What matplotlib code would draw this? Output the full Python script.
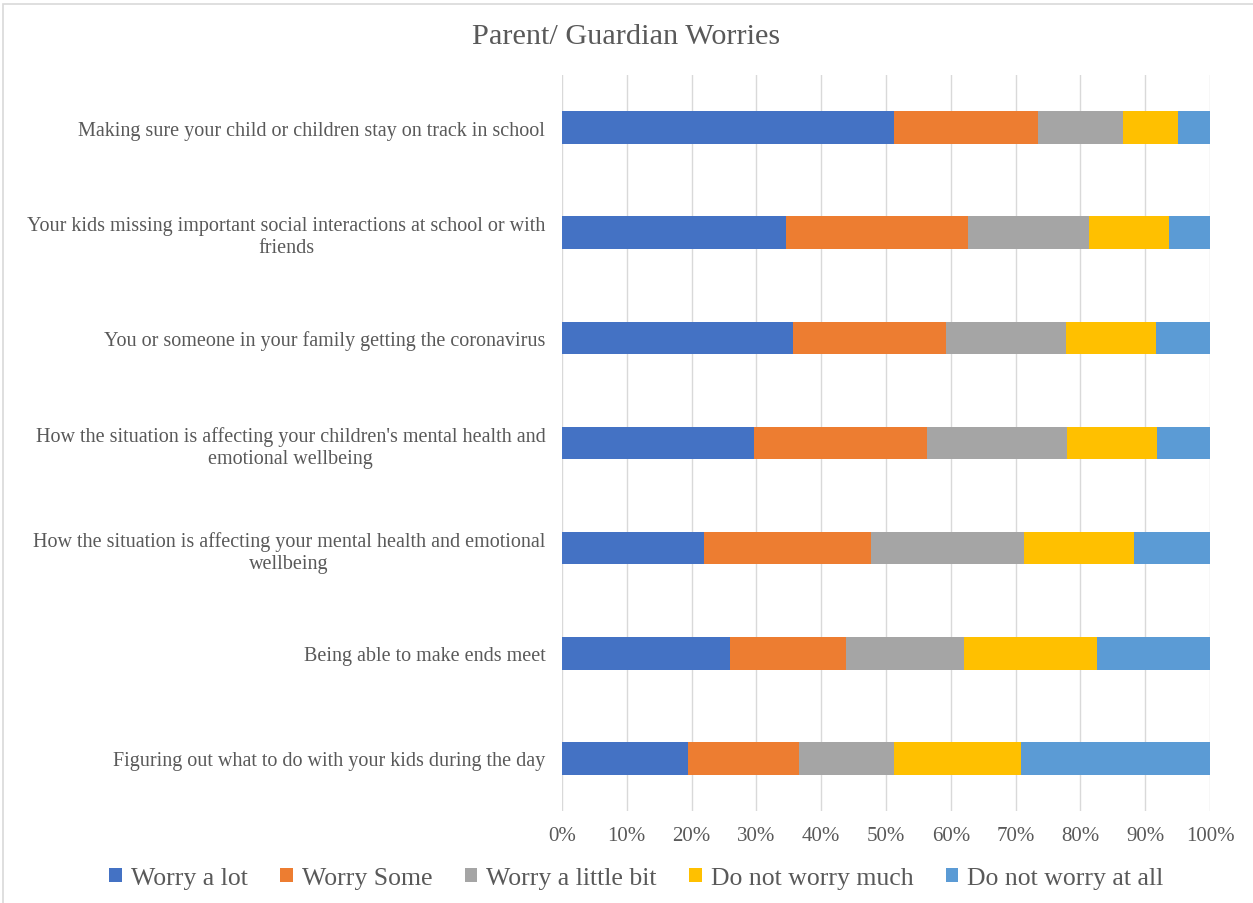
import matplotlib.pyplot as plt
from matplotlib.patches import Rectangle
import numpy as np

# --- survey data (share of respondents, %) ---
questions = [
    'Making sure your child or children stay on track in school',
    'Your kids missing important social interactions at school or with\nfriends',
    'You or someone in your family getting the coronavirus',
    "How the situation is affecting your children's mental health and\nemotional wellbeing",
    'How the situation is affecting your mental health and emotional\nwellbeing',
    'Being able to make ends meet',
    'Figuring out what to do with your kids during the day',
]
worry_lot = [51.3, 34.6, 35.7, 29.7, 21.9, 26.0, 19.4]
worry_some = [22.2, 28.1, 23.5, 26.6, 25.8, 17.8, 17.1]
worry_little = [13.1, 18.6, 18.5, 21.7, 23.6, 18.3, 14.8]
not_much = [8.4, 12.4, 14.0, 13.8, 17.0, 20.4, 19.5]
not_at_all = [5.0, 6.3, 8.3, 8.2, 11.7, 17.5, 29.2]

series_names = ['Worry a lot', 'Worry Some', 'Worry a little bit',
                'Do not worry much', 'Do not worry at all']
colors = ['#4472C4', '#ED7D31', '#A5A5A5', '#FFC000', '#5B9BD5']
TEXT = '#595959'

plt.rcParams['font.family'] = ['Liberation Serif', 'DejaVu Serif']

fig = plt.figure(figsize=(12.53, 9.04), dpi=100)
ax = fig.add_axes([0.4485, 0.1018, 0.5172, 0.8141])

# outer chart frame
fig.patches.append(Rectangle((3 / 1253, -0.01), 1.0, 1 - 5 / 904 + 0.01,
                             transform=fig.transFigure, fill=False,
                             edgecolor='#D9D9D9', linewidth=1.2))

y = np.arange(len(questions))
left = np.zeros(len(questions))
for vals, name, c in zip([worry_lot, worry_some, worry_little, not_much, not_at_all],
                         series_names, colors):
    vals = np.array(vals)
    ax.barh(y, vals, left=left, height=0.31, color=c, label=name, zorder=3)
    left += vals

ax.set_ylim(len(questions) - 0.5, -0.5)
ax.set_xlim(0, 100)
ax.set_xticks(np.arange(0, 101, 10))
ax.set_xticklabels([f'{v}%' for v in range(0, 101, 10)])
ax.set_yticks(y)
ax.set_yticklabels(questions, multialignment='center')

ax.grid(axis='x', color='#D9D9D9', linewidth=1, zorder=0)
for s in ax.spines.values():
    s.set_visible(False)
ax.tick_params(axis='both', length=0, colors=TEXT)
ax.tick_params(axis='x', pad=11, labelsize=15)
ax.tick_params(axis='y', pad=12, labelsize=14.5)

fig.text(0.5, 1 - 37 / 904, 'Parent/ Guardian Worries', ha='center', va='center',
         fontsize=21.8, color=TEXT)

leg = fig.legend(loc='center', bbox_to_anchor=(0.508, 1 - 879 / 904), ncol=5,
                 frameon=False, fontsize=18.5, handlelength=0.5, handleheight=0.5,
                 handletextpad=0.35, columnspacing=1.25)
for t in leg.get_texts():
    t.set_color(TEXT)

fig.savefig('out.png', dpi=100)
